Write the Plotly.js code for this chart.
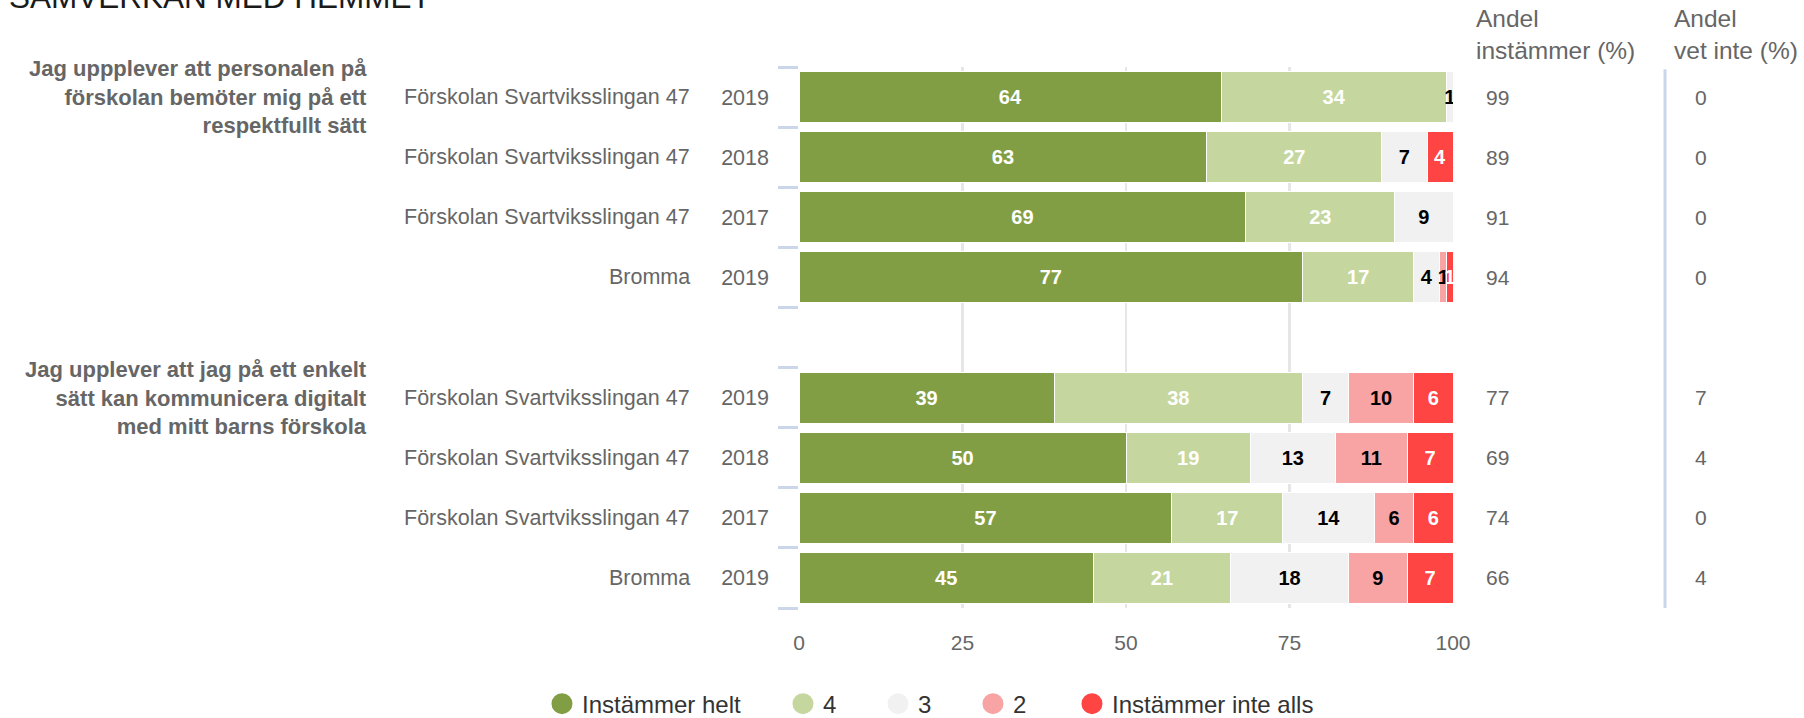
<!DOCTYPE html>
<html>
<head>
<meta charset="utf-8">
<script src="https://cdn.plot.ly/plotly-3.0.1.min.js"></script>
<style>
html,body{margin:0;padding:0;background:#fff;}
#chart{width:1804px;height:718px;}
</style>
</head>
<body>
<div id="chart"></div>
<script>
// ---- data ----
const chartTitle = 'SAMVERKAN MED HEMMET';
const questions = [
  'Jag uppplever att personalen på<br>förskolan bemöter mig på ett<br>respektfullt sätt',
  'Jag upplever att jag på ett enkelt<br>sätt kan kommunicera digitalt<br>med mitt barns förskola'
];
const units = ['Förskolan Svartviksslingan 47', 'Förskolan Svartviksslingan 47', 'Förskolan Svartviksslingan 47', 'Bromma'];
const years = ['2019', '2018', '2017', '2019'];
const seriesNames = ['Instämmer helt', '4', '3', '2', 'Instämmer inte alls'];
const seriesColors = ['#829e44', '#c5d79e', '#f1f1f1', '#f9a4a4', '#ff4444'];
const labelColors = ['#ffffff', '#ffffff', '#000000', '#000000', '#ffffff'];
const instammerHelt     = [64, 63, 69, 77, 39, 50, 57, 45];
const svar4             = [34, 27, 23, 17, 38, 19, 17, 21];
const svar3             = [1, 7, 9, 4, 7, 13, 14, 18];
const svar2             = [0, 0, 0, 1, 10, 11, 6, 9];
const instammerInteAlls = [0, 4, 0, 1, 6, 7, 6, 7];
const andelInstammer = [99, 89, 91, 94, 77, 69, 74, 66];
const andelVetInte   = [0, 0, 0, 0, 7, 4, 0, 4];
const xTickVals = [0, 25, 50, 75, 100];
const headerInstammer = 'Andel<br>instämmer (%)';
const headerVetInte = 'Andel<br>vet inte (%)';

// ---- build rows ----
const FONT = 'Liberation Sans, Arial, sans-serif';
const rowIds = [];      // data rows
const categories = [];  // all rows including gap
const tickText = [];
const groupFirstRow = [];
questions.forEach((q, qi) => {
  if (qi > 0) { categories.push('gap' + qi); tickText.push(''); }
  units.forEach((u, ui) => {
    const id = 'q' + qi + '_r' + ui;
    if (ui === 0) groupFirstRow.push(id);
    rowIds.push(id);
    categories.push(id);
    tickText.push(years[ui]);
  });
});
const rowUnits = [];
questions.forEach(() => units.forEach(u => rowUnits.push(u)));

const seriesValues = [instammerHelt, svar4, svar3, svar2, instammerInteAlls];

const traces = [];
seriesValues.forEach((vals, si) => {
  traces.push({
    type: 'bar',
    orientation: 'h',
    name: seriesNames[si],
    x: vals,
    y: rowIds,
    text: vals.map(String),
    texttemplate: '%{text}',
    textposition: 'inside',
    insidetextanchor: 'middle',
    constraintext: 'none',
    textangle: 0,
    textfont: {family: FONT, size: 20, color: labelColors[si], weight: 'bold'},
    marker: {color: seriesColors[si], line: {color: '#ffffff', width: 1}},
    showlegend: false,
    hoverinfo: 'skip'
  });
});
// legend entries (circles)
const legendNames = ['legend', 'legend2', 'legend3', 'legend4', 'legend5'];
seriesNames.forEach((n, si) => {
  traces.push({
    type: 'scatter',
    mode: 'markers',
    name: n,
    x: [null],
    y: [null],
    marker: {symbol: 'circle', size: 16, color: seriesColors[si], line: {color: seriesColors[si], width: 5}},
    legend: legendNames[si],
    showlegend: true,
    hoverinfo: 'skip'
  });
});

const annotations = [];
// title
annotations.push({
  text: chartTitle, xref: 'paper', yref: 'paper', x: -1.211, y: 1.092,
  xanchor: 'left', yanchor: 'bottom', showarrow: false,
  font: {family: FONT, size: 31.5, color: '#1a1a1a'}
});
// group labels
questions.forEach((q, qi) => {
  annotations.push({
    text: q, xref: 'paper', yref: 'y', x: -0.658, y: groupFirstRow[qi],
    xanchor: 'right', yanchor: 'middle', align: 'right', showarrow: false,
    font: {family: FONT, size: 22, color: '#666666', weight: 'bold'}
  });
});
// unit names + value columns
rowIds.forEach((id, i) => {
  annotations.push({
    text: rowUnits[i], xref: 'paper', yref: 'y', x: -0.1635, y: id,
    xanchor: 'right', yanchor: 'middle', showarrow: false,
    font: {family: FONT, size: 21.5, color: '#666666'}
  });
  annotations.push({
    text: String(andelInstammer[i]), xref: 'paper', yref: 'y', x: 1.0475, y: id,
    xanchor: 'left', yanchor: 'middle', showarrow: false,
    font: {family: FONT, size: 21, color: '#666666'}
  });
  annotations.push({
    text: String(andelVetInte[i]), xref: 'paper', yref: 'y', x: 1.367, y: id,
    xanchor: 'left', yanchor: 'middle', showarrow: false,
    font: {family: FONT, size: 21, color: '#666666'}
  });
});
// headers
annotations.push({
  text: headerInstammer, xref: 'paper', yref: 'paper', x: 1.032, y: 1.06,
  xanchor: 'left', yanchor: 'middle', align: 'left', showarrow: false,
  font: {family: FONT, size: 24.5, color: '#666666'}
});
annotations.push({
  text: headerVetInte, xref: 'paper', yref: 'paper', x: 1.335, y: 1.06,
  xanchor: 'left', yanchor: 'middle', align: 'left', showarrow: false,
  font: {family: FONT, size: 24.5, color: '#666666'}
});

const legendX = [-0.393, -0.0245, 0.1208, 0.266, 0.4174];
const layout = {
  width: 1804, height: 718,
  margin: {l: 799, r: 351, t: 67, b: 110, autoexpand: false},
  paper_bgcolor: '#ffffff', plot_bgcolor: '#ffffff',
  barmode: 'stack', barnorm: 'percent', bargap: 0.15,
  hovermode: false,
  font: {family: FONT, color: '#666666'},
  xaxis: {
    range: [0, 100], tickmode: 'array', tickvals: xTickVals,
    showgrid: true, gridcolor: '#e6e6e6', gridwidth: 2.5, zeroline: false, showline: false,
    ticks: '', ticklabelstandoff: 20,
    tickfont: {family: FONT, size: 21, color: '#666666'}, fixedrange: true
  },
  yaxis: {
    type: 'category', categoryorder: 'array', categoryarray: categories,
    range: [categories.length - 0.5, -0.5],
    tickmode: 'array', tickvals: categories, ticktext: tickText,
    tickson: 'boundaries', ticks: 'outside', ticklen: 20, tickwidth: 3, tickcolor: '#ccd6eb',
    showgrid: false, zeroline: false, showline: false, ticklabelstandoff: 29,
    tickfont: {family: FONT, size: 21.5, color: '#666666'}, fixedrange: true
  },
  shapes: [{
    type: 'line', xref: 'paper', yref: 'paper', x0: 1.3242, x1: 1.3242, y0: 0, y1: 0.996,
    line: {color: '#ccd6eb', width: 3}
  }],
  annotations: annotations
};
legendNames.forEach((ln, i) => {
  layout[ln] = {
    orientation: 'h', x: legendX[i], xanchor: 'left', y: -0.1775, yanchor: 'middle',
    bgcolor: 'rgba(0,0,0,0)', borderwidth: 0,
    font: {family: FONT, size: 24, color: '#333333'}, itemclick: false, itemdoubleclick: false
  };
});

Plotly.newPlot('chart', traces, layout, {displayModeBar: false, staticPlot: true});
</script>
</body>
</html>
